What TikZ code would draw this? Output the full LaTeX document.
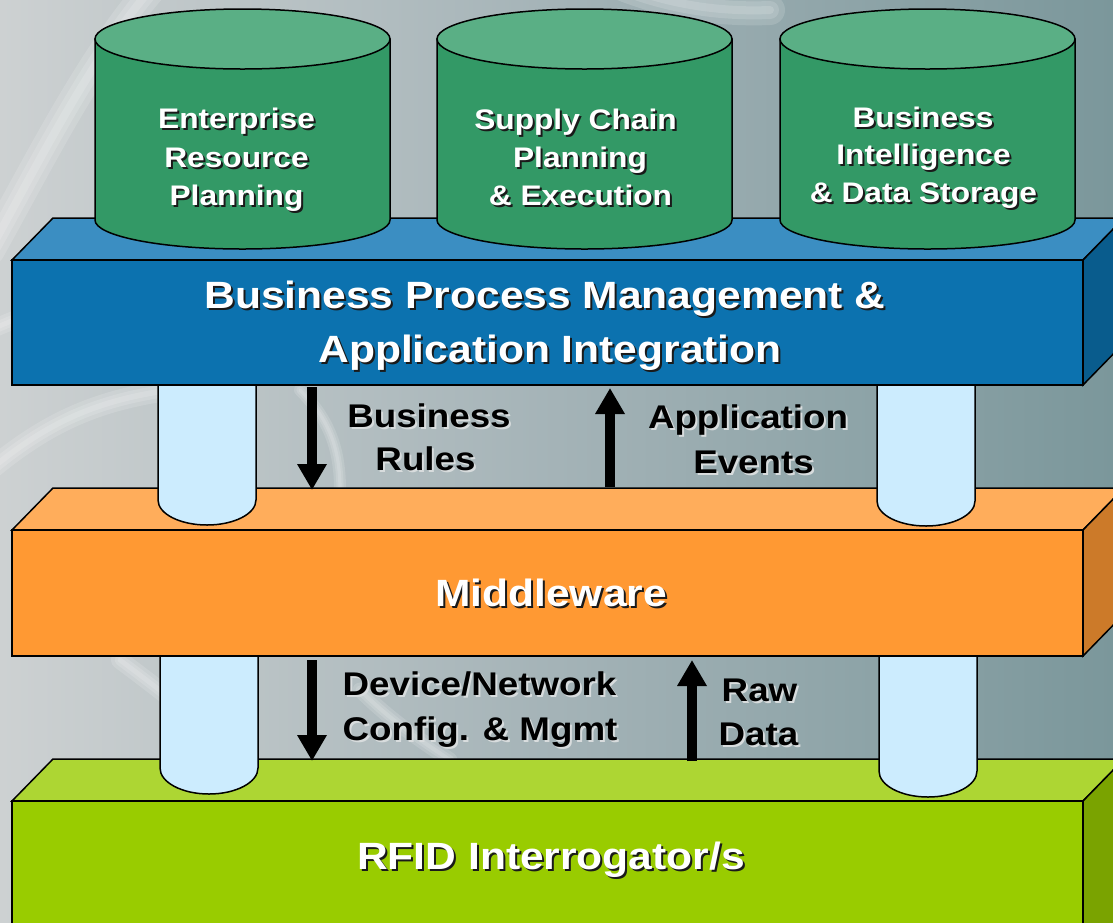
\documentclass[tikz,border=0pt]{standalone}
\usepackage{fontspec}
\setmainfont{Liberation Sans}[FakeStretch=1.12]
\usetikzlibrary{arrows.meta}
\definecolor{bgL}{HTML}{CDD1D2}
\definecolor{bgM}{HTML}{A4B3B7}
\definecolor{bgR}{HTML}{7B979B}
\definecolor{cylBody}{HTML}{339966}
\definecolor{cylTop}{HTML}{5AAF85}
\definecolor{blueFront}{HTML}{0C72AF}
\definecolor{blueTop}{HTML}{3B8EC2}
\definecolor{blueSide}{HTML}{095C8D}
\definecolor{orFront}{HTML}{FF9933}
\definecolor{orTop}{HTML}{FFAD5B}
\definecolor{orSide}{HTML}{CC7A29}
\definecolor{grFront}{HTML}{99CC00}
\definecolor{grTop}{HTML}{ADD633}
\definecolor{grSide}{HTML}{7AA300}
\definecolor{pipe}{HTML}{CCECFE}
\definecolor{darkShadow}{HTML}{1A1A1A}
\definecolor{lightShadow}{HTML}{D8DCDD}
\newcommand\shw[2]{\leavevmode\rlap{\kern2pt\raisebox{-2pt}{\textcolor{#1}{#2}}}#2}
\tikzset{
  edge/.style={draw=black, line width=1.5pt, line join=miter},
  bigtxt/.style={text=white, font=\bfseries\fontsize{38}{38}\selectfont, inner sep=0pt, anchor=base},
  cyltxt/.style={text=white, font=\bfseries\fontsize{28.3}{28.3}\selectfont, inner sep=0pt, anchor=base},
  lbltxt/.style={text=black, font=\bfseries\fontsize{32.8}{32.8}\selectfont, inner sep=0pt, anchor=base},
  flow/.style={draw=black, line width=10pt, -{Triangle[width=28pt,length=26pt]}},
  swoosh/.style={white, line cap=round, opacity=0.14},
}
\begin{document}
\begin{tikzpicture}[x=1pt,y=-1pt]
\useasboundingbox (0,0) rectangle (1113,922);
\clip (0,0) rectangle (1113,922);
% background
\shade[left color=bgL, right color=bgR, middle color=bgM] (0,0) rectangle (1113,922);
\foreach \w in {30,18,8}{
  \draw[swoosh, line width=\w pt] (-10,250) .. controls (40,160) and (90,60) .. (150,-10);
  \draw[swoosh, line width=0.6*\w pt] (-10,330) .. controls (60,300) and (120,280) .. (200,270);
  \draw[swoosh, line width=0.7*\w pt] (-10,470) .. controls (50,420) and (100,400) .. (170,390);
  \draw[swoosh, line width=0.4*\w pt] (300,390) .. controls (330,420) and (340,450) .. (340,490);
  \draw[swoosh, line width=0.6*\w pt] (120,660) .. controls (160,690) and (200,720) .. (240,760);
  \draw[swoosh, line width=0.5*\w pt] (360,690) .. controls (390,720) and (420,740) .. (450,760);
  \draw[swoosh, line width=\w pt] (620,-15) .. controls (670,5) and (720,12) .. (770,10);
}

% ---------- green slab ----------
\filldraw[edge, fill=grTop] (12,801) -- (53,759) -- (1124,759) -- (1083,801) -- cycle;
\filldraw[edge, fill=grSide] (1083,801) -- (1124,759) -- (1124,940) -- (1083,940) -- cycle;
\filldraw[edge, fill=grFront] (12,801) rectangle (1083,935);

% lower pipes
\filldraw[edge, fill=pipe] (160,650) -- (160,768) arc[start angle=180, end angle=0, x radius=49, y radius=26] -- (258,650) -- cycle;
\filldraw[edge, fill=pipe] (879,650) -- (879,771) arc[start angle=180, end angle=0, x radius=49, y radius=26] -- (977,650) -- cycle;

% ---------- orange slab ----------
\filldraw[edge, fill=orTop] (12,530) -- (53,488) -- (1124,488) -- (1083,530) -- cycle;
\filldraw[edge, fill=orSide] (1083,530) -- (1124,488) -- (1124,614) -- (1083,656) -- cycle;
\filldraw[edge, fill=orFront] (12,530) rectangle (1083,656);

% upper pipes
\filldraw[edge, fill=pipe] (158,380) -- (158,500) arc[start angle=180, end angle=0, x radius=49, y radius=25] -- (256,380) -- cycle;
\filldraw[edge, fill=pipe] (877,380) -- (877,501) arc[start angle=180, end angle=0, x radius=49, y radius=25] -- (975,380) -- cycle;

% ---------- blue slab ----------
\filldraw[edge, fill=blueTop] (12,260) -- (53,218) -- (1124,218) -- (1083,260) -- cycle;
\filldraw[edge, fill=blueSide] (1083,260) -- (1124,218) -- (1124,343) -- (1083,385) -- cycle;
\filldraw[edge, fill=blueFront] (12,260) rectangle (1083,385);

% ---------- cylinders ----------
\foreach \cx in {242.5,584.5,927.5}{
  \filldraw[edge, fill=cylBody] (\cx-147.5,39) -- (\cx-147.5,220)
     arc[start angle=180, end angle=0, x radius=147.5, y radius=29]
     -- (\cx+147.5,39) -- cycle;
  \filldraw[edge, fill=cylTop] (\cx,39) ellipse [x radius=147.5, y radius=30];
}

% ---------- texts ----------
\node[cyltxt] (erp1) at (236.5,128) {\shw{darkShadow}{Enterprise}};
\node[cyltxt] (erp2) at (236.5,167) {\shw{darkShadow}{Resource}};
\node[cyltxt] (erp3) at (236.5,205) {\shw{darkShadow}{Planning}};
\node[cyltxt] (scp1) at (575.5,129) {\shw{darkShadow}{Supply Chain}};
\node[cyltxt] (scp2) at (580,167) {\shw{darkShadow}{Planning}};
\node[cyltxt] (scp3) at (580.5,205) {\shw{darkShadow}{\& Execution}};
\node[cyltxt] (bi1) at (923,127) {\shw{darkShadow}{Business}};
\node[cyltxt] (bi2) at (923.5,164) {\shw{darkShadow}{Intelligence}};
\node[cyltxt] (bi3) at (923.5,202) {\shw{darkShadow}{\& Data Storage}};

\node[bigtxt] (bpm1) at (545,308) {\shw{darkShadow}{Business Process Management \&}};
\node[bigtxt] (bpm2) at (550,362) {\shw{darkShadow}{Application Integration}};
\node[bigtxt] (mw) at (551,606) {\shw{darkShadow}{Middleware}};
\node[bigtxt] (rfid) at (551,869) {\shw{darkShadow}{RFID Interrogator/s}};

\node[lbltxt] (br1) at (429,427) {\shw{lightShadow}{Business}};
\node[lbltxt] (br2) at (425.5,470) {\shw{lightShadow}{Rules}};
\node[lbltxt] (ae1) at (748,428) {\shw{lightShadow}{Application}};
\node[lbltxt] (ae2) at (753.5,473) {\shw{lightShadow}{Events}};
\node[lbltxt] (dn1) at (479.5,695) {\shw{lightShadow}{Device/Network}};
\node[lbltxt] (dn2) at (480,740) {\shw{lightShadow}{Config. \& Mgmt}};
\node[lbltxt] (rd1) at (759.5,701) {\shw{lightShadow}{Raw}};
\node[lbltxt] (rd2) at (758.5,745) {\shw{lightShadow}{Data}};

% ---------- arrows ----------
\coordinate (brS) at (312,387);
\coordinate (brE) at (312,490);
\coordinate (aeS) at (610,487);
\coordinate (aeE) at (610,388);
\coordinate (dnS) at (312,660);
\coordinate (dnE) at (312,761);
\coordinate (rdS) at (692,761);
\coordinate (rdE) at (692,660);
\draw[flow] (brS) -- (brE);
\draw[flow] (aeS) -- (aeE);
\draw[flow] (dnS) -- (dnE);
\draw[flow] (rdS) -- (rdE);
\end{tikzpicture}
\end{document}
